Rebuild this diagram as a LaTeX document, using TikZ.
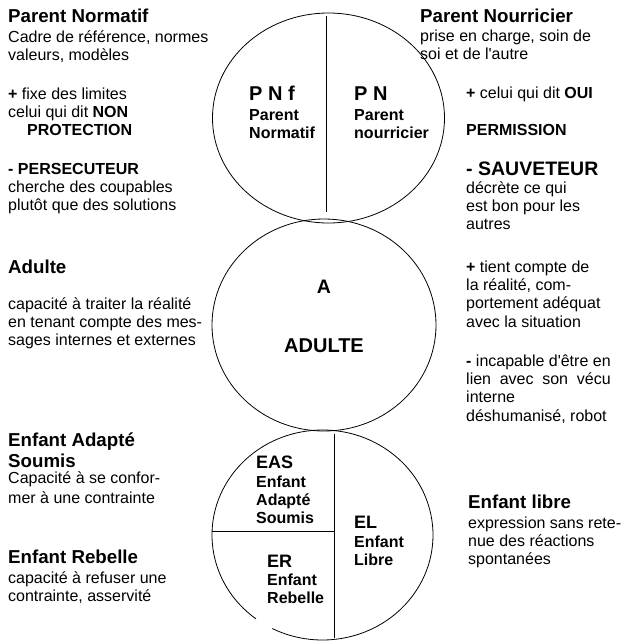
\documentclass[tikz,border=0pt]{standalone}
\usepackage{fontspec}
\setmainfont{Liberation Sans}[Ligatures=TeXOff]
\usetikzlibrary{shapes.geometric}
\newcommand{\mylines}[1]{\begin{tabular}[t]{@{}l@{}}#1\end{tabular}}
\newlength{\incapw}
\begin{document}
\begin{tikzpicture}[x=1pt,y=-1pt,
  bd/.style={anchor=base west, inner sep=0pt, font=\fontsize{16}{18.4}\selectfont},
  ttl/.style={anchor=base west, inner sep=0pt, font=\fontsize{18.7}{21}\selectfont\bfseries},
  bigb/.style={anchor=base west, inner sep=0pt, font=\fontsize{19.5}{22}\selectfont\bfseries},
  inb/.style={anchor=base west, inner sep=0pt, font=\fontsize{16}{18.4}\selectfont\bfseries},
  inh/.style={anchor=base west, inner sep=0pt, font=\fontsize{18}{20}\selectfont\bfseries},
  circ/.style={ellipse, draw=black, line width=0.8pt, inner sep=0pt}
]
\useasboundingbox (0,0) rectangle (628,641);

% circles
\node[circ, minimum width=232pt, minimum height=210pt] (pcirc) at (328.5,118) {};
\node[circ, minimum width=224pt, minimum height=212pt] (acirc) at (324,325) {};
\node[ellipse, inner sep=0pt, minimum width=221pt, minimum height=210pt] (ecirc) at (322.5,535) {};
\draw[line width=0.8pt] (ecirc.center) ++(127:110.5 and 105)
   arc[start angle=127, end angle=477, x radius=110.5, y radius=105];

% dividing lines
\coordinate (pv1) at (326,16);
\coordinate (pv2) at (326,212);
\draw[line width=0.8pt] (pv1) -- (pv2);
\coordinate (ev1) at (334,434);
\coordinate (ev2) at (334,638);
\coordinate (eh1) at (212,531);
\coordinate (eh2) at (334,531);
\draw[line width=0.8pt] (ev1) -- (ev2);
\draw[line width=0.8pt] (eh1) -- (eh2);

% top circle labels
\node[inh, font=\fontsize{20}{22}\selectfont\bfseries] (pnf) at (249,100) {P N f};
\node[inb] (pnfl) at (249,120) {\mylines{Parent\\Normatif}};
\node[inh, font=\fontsize{20}{22}\selectfont\bfseries] (pnn) at (354,100) {P N};
\node[inb] (pnnl) at (354,120) {\mylines{Parent\\nourricier}};

% middle circle labels
\node[anchor=base, inner sep=0pt, font=\fontsize{19.5}{22}\selectfont\bfseries] (aa) at (324,293) {A};
\node[anchor=base, inner sep=0pt, font=\fontsize{20}{22}\selectfont\bfseries] (aadulte) at (324,352) {ADULTE};

% bottom circle labels
\node[inh] (eas) at (256,468) {EAS};
\node[inb] (easl) at (256,487) {\mylines{Enfant\\Adapté\\Soumis}};
\node[inh] (el) at (354,528) {EL};
\node[inb] (ell) at (354,547) {\mylines{Enfant\\Libre}};
\node[inh] (er) at (267,567) {ER};
\node[inb] (erl) at (267,585) {\mylines{Enfant\\Rebelle}};

% left texts
\node[ttl] (pnT) at (8,22) {Parent Normatif};
\node[bd] (pnD) at (8,42) {\mylines{Cadre de référence, normes\\valeurs, modèles}};
\node[bd] (pnP) at (8,99) {\mylines{\textbf{+} fixe des limites\\celui qui dit \textbf{NON}\\\hspace{19pt}\textbf{PROTECTION}}};
\node[bd] (pnM) at (8,174) {\mylines{\textbf{- PERSECUTEUR}\\cherche des coupables\\plutôt que des solutions}};

\node[ttl] (adT) at (8,273) {Adulte};
\node[bd] (adD) at (8,309) {\mylines{capacité à traiter la réalité\\en tenant compte des mes-\\sages internes et externes}};

\node[ttl] (easT) at (8,446) {\mylines{Enfant Adapté\\Soumis}};
\node[bd, font=\fontsize{16}{20}\selectfont] (easD) at (8,483) {\mylines{Capacité à se confor-\\mer à une contrainte}};
\node[ttl] (erT) at (8,563) {Enfant Rebelle};
\node[bd] (erD) at (8,583) {\mylines{capacité à refuser une\\contrainte, asservité}};

% right texts
\node[ttl] (pnnT) at (420,22) {Parent Nourricier};
\node[bd] (pnnD) at (420,41) {\mylines{prise en charge, soin de\\soi et de l'autre}};
\node[bd] (pnnP) at (466,98) {\textbf{+} celui qui dit \textbf{OUI}};
\node[bd] (pnnPe) at (466,135) {\textbf{PERMISSION}};
\node[bigb] (pnnM) at (466,175) {- SAUVETEUR};
\node[bd] (pnnMd) at (466,193) {\mylines{décrète ce qui\\est bon pour les\\autres}};

\node[bd] (adP) at (466,272) {\mylines{\textbf{+} tient compte de\\la réalité, com-\\portement adéquat\\avec la situation}};
\node[bd] (adM) at (466,366) {\settowidth{\incapw}{\textbf{-} incapable d'être en}\mylines{\textbf{-} incapable d'être en\\\makebox[\incapw][s]{lien avec son vécu}\\interne\\déshumanisé, robot}};

\node[ttl] (elT) at (468,508) {Enfant libre};
\node[bd] (elD) at (468,528) {\mylines{expression sans rete-\\nue des réactions\\spontanées}};
\end{tikzpicture}
\end{document}
